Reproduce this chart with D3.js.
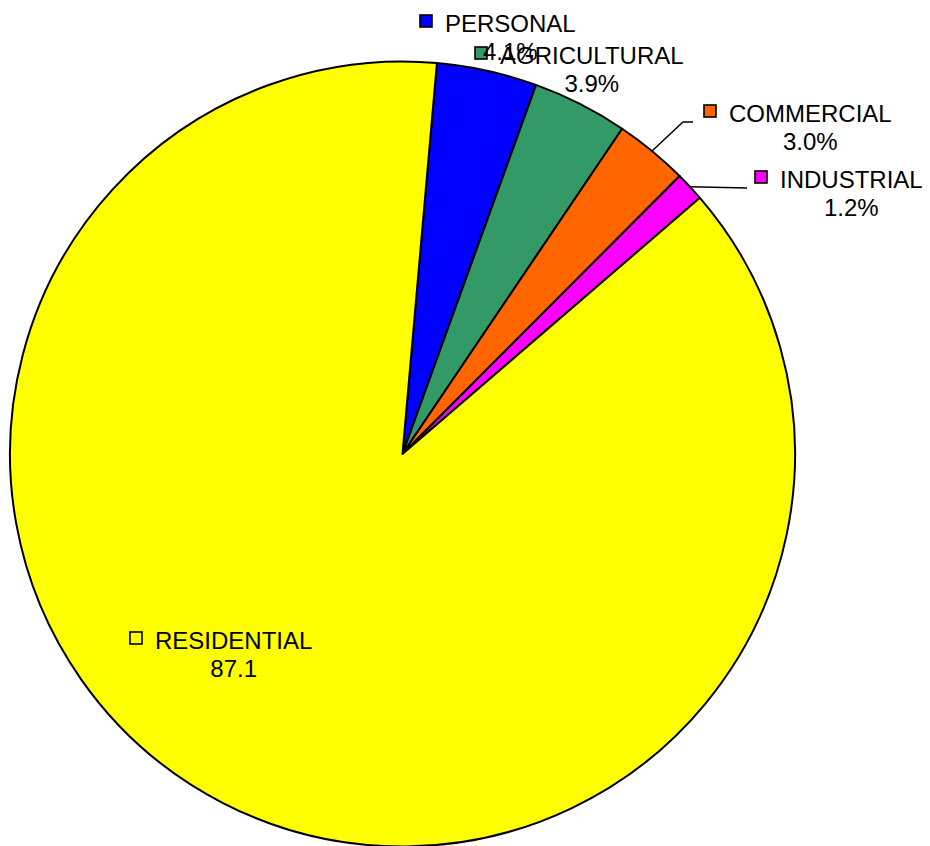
<!DOCTYPE html>
<html>
<head>
<meta charset="utf-8">
<script src="https://cdn.jsdelivr.net/npm/d3@7"></script>
<style>
  html, body { margin: 0; padding: 0; background: #fff; }
  svg { display: block; }
  text { font-family: "Liberation Sans", Arial, sans-serif; font-size: 24px; fill: #000; }
</style>
</head>
<body>
<svg id="chart" width="930" height="846"></svg>
<script>
// ---- data ----
const categories = ["PERSONAL", "AGRICULTURAL", "COMMERCIAL", "INDUSTRIAL", "RESIDENTIAL"];
const values = [4.1, 3.9, 3.0, 1.2, 87.1];
const valueLabels = ["4.1%", "3.9%", "3.0%", "1.2%", "87.1"];
const colors = ["#0000FF", "#339966", "#FF6600", "#FF00FF", "#FFFF00"];

// ---- layout ----
const W = 930, H = 846;
const cx = 402.5, cy = 454, R = 392.5;
const startDeg = 5.03;
// label anchor (left of name text, baseline), leader elbow points (null = none)
const labelLayout = [
  { x: 445, y: 32, leader: null },
  { x: 500, y: 64, leader: null },
  { x: 729, y: 122, leader: [[683, 122], [693, 122]] },
  { x: 780, y: 188, leader: [[747, 188]] },
  { x: 155, y: 649, leader: null }
];
const lineGap = 28;

const svg = d3.select("#chart");
const g = svg.append("g").attr("transform", `translate(${cx},${cy})`);

const pie = d3.pie().sort(null).value(d => d.v)
  .startAngle(startDeg * Math.PI / 180)
  .endAngle(startDeg * Math.PI / 180 + 2 * Math.PI);
const data = categories.map((c, i) => ({ c, v: values[i], lab: valueLabels[i], col: colors[i], i }));
const arcs = pie(data);
const arc = d3.arc().innerRadius(0).outerRadius(R);

g.selectAll("path.slice").data(arcs).join("path")
  .attr("class", "slice")
  .attr("d", arc)
  .attr("fill", d => d.data.col)
  .attr("stroke", "#000")
  .attr("stroke-width", 2)
  .attr("stroke-linejoin", "round");

// leader lines
arcs.forEach(a => {
  const L = labelLayout[a.index];
  if (!L.leader) return;
  const mid = (a.startAngle + a.endAngle) / 2;
  const p0 = [cx + R * Math.sin(mid), cy - R * Math.cos(mid)];
  const pts = [p0].concat(L.leader);
  svg.append("path")
    .attr("d", d3.line()(pts))
    .attr("fill", "none")
    .attr("stroke", "#000")
    .attr("stroke-width", 1.5);
});

// labels (agricultural first so personal's value overlaps it as in reference)
const drawOrder = [1, 0, 2, 3, 4];
drawOrder.forEach(i => {
  const d = data[i];
  const L = labelLayout[i];
  const lg = svg.append("g");
  lg.append("rect")
    .attr("x", L.x - 25).attr("y", L.y - 17)
    .attr("width", 12).attr("height", 12)
    .attr("fill", d.col)
    .attr("stroke", "#000").attr("stroke-width", 1.6);
  const t = lg.append("text").attr("x", L.x).attr("y", L.y).text(d.c);
  const w = t.node().getComputedTextLength();
  lg.append("text")
    .attr("x", L.x + w / 2).attr("y", L.y + lineGap)
    .attr("text-anchor", "middle")
    .text(d.lab);
});
</script>
</body>
</html>
